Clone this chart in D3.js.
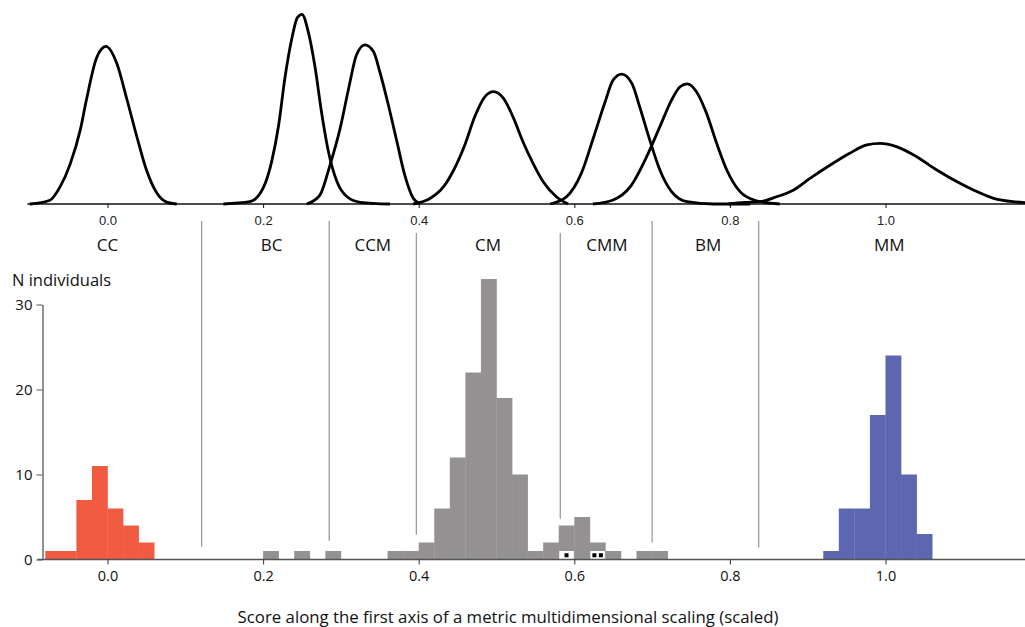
<!DOCTYPE html>
<html>
<head>
<meta charset="utf-8">
<script src="https://cdn.jsdelivr.net/npm/d3@7"></script>
<style>
  body{ margin:0; background:#fff; }
  svg{ display:block; }
</style>
</head>
<body>
<div id="chart"></div>
<script>
// ---- data ----
// density curves (score, relative density)
const ccCurve  = [[-0.100,0],[-0.074,0.02],[-0.061,0.09],[-0.048,0.21],[-0.035,0.39],[-0.027,0.55],[-0.014,0.77],[-0.002,0.83],[0.012,0.74],[0.025,0.55],[0.038,0.35],[0.050,0.18],[0.063,0.06],[0.076,0.01],[0.089,0]];
const bcCurve  = [[0.149,0],[0.183,0.012],[0.200,0.083],[0.211,0.223],[0.220,0.416],[0.228,0.662],[0.237,0.872],[0.244,0.981],[0.250,0.998],[0.258,0.907],[0.267,0.714],[0.275,0.486],[0.284,0.275],[0.295,0.117],[0.308,0.038],[0.325,0.009],[0.363,0]];
const ccmCurve = [[0.256,0],[0.273,0.047],[0.286,0.205],[0.299,0.398],[0.310,0.609],[0.320,0.784],[0.331,0.837],[0.342,0.801],[0.350,0.696],[0.361,0.521],[0.372,0.328],[0.382,0.153],[0.393,0.030],[0.402,0]];
const cmCurve  = [[0.393,0],[0.415,0.030],[0.432,0.091],[0.445,0.179],[0.460,0.319],[0.472,0.459],[0.485,0.564],[0.496,0.591],[0.509,0.556],[0.522,0.451],[0.534,0.328],[0.547,0.214],[0.560,0.117],[0.577,0.038],[0.592,0]];
const cmmCurve = [[0.569,0],[0.590,0.038],[0.609,0.161],[0.625,0.354],[0.639,0.530],[0.650,0.653],[0.661,0.684],[0.674,0.635],[0.684,0.512],[0.697,0.337],[0.710,0.179],[0.725,0.065],[0.745,0.012],[0.779,0],[0.826,0]];
const bmCurve  = [[0.624,0],[0.650,0.021],[0.672,0.091],[0.693,0.249],[0.710,0.407],[0.725,0.547],[0.736,0.617],[0.745,0.632],[0.757,0.591],[0.770,0.477],[0.783,0.319],[0.796,0.179],[0.813,0.065],[0.834,0.017],[0.864,0]];
const mmCurve  = [[0.798,0],[0.819,0.008],[0.839,0.012],[0.860,0.038],[0.882,0.074],[0.903,0.135],[0.929,0.205],[0.954,0.267],[0.976,0.311],[0.993,0.319],[1.014,0.302],[1.040,0.249],[1.066,0.179],[1.092,0.117],[1.113,0.074],[1.139,0.030],[1.164,0.012],[1.180,0.007]];
const curves = [ccCurve, bcCurve, ccmCurve, cmCurve, cmmCurve, bmCurve, mmCurve];

// group labels and boundaries between groups
const groupNames  = ["CC","BC","CCM","CM","CMM","BM","MM"];
const groupCenter = [0.0, 0.211, 0.341, 0.489, 0.642, 0.772, 1.005];
const boundaries  = [0.121, 0.285, 0.397, 0.582, 0.700, 0.837];
const boundaryEnd = [1.5, 2.2, 2.9, 4.8, 2.0, 1.4];   // counts where the lines stop

// histogram, bins of width 0.02 (left edge, count)
const binWidth = 0.02;
const ccBins   = [-0.08,-0.06,-0.04,-0.02,0.00,0.02,0.04];
const ccCounts = [1,1,7,11,6,4,2];
const cmBins   = [0.20,0.24,0.28,0.36,0.38,0.40,0.42,0.44,0.46,0.48,0.50,0.52,0.54,0.56,0.58,0.60,0.62,0.64,0.68,0.70];
const cmCounts = [1,1,1,1,1,2,6,12,22,33,19,10,1,2,4,5,2,1,1,1];
const mmBins   = [0.92,0.94,0.96,0.98,1.00,1.02,1.04];
const mmCounts = [1,6,6,17,24,10,3];
const markedBins   = [0.58, 0.62];   // white boxes with individual markers
const markedCounts = [1, 2];

const xTicks = [0.0, 0.2, 0.4, 0.6, 0.8, 1.0];
const yTicks = [0, 10, 20, 30];

// ---- drawing ----
const w = 1025, h = 627;
const svg = d3.select("#chart").append("svg")
  .attr("width", w)
  .attr("height", h);

const x = d3.scaleLinear().domain([0, 1]).range([107.5, 885.5]);
const yDens = d3.scaleLinear().domain([0, 1]).range([204, 14]);
const yCount = d3.scaleLinear().domain([0, 30]).range([559.5, 304.5]);

// top panel: density curves
svg.append("line")
  .attr("x1", x(-0.103)).attr("x2", w)
  .attr("y1", yDens(0)).attr("y2", yDens(0))
  .attr("stroke", "#111").attr("stroke-width", 1.3);

const topAxis = svg.append("g")
  .attr("transform", `translate(0,${yDens(0)})`)
  .call(d3.axisBottom(x).tickValues(xTicks).tickFormat(d3.format(".1f")).tickSize(4));
topAxis.select(".domain").remove();
topAxis.selectAll("line").attr("stroke", "#111");
topAxis.selectAll("text")
  .attr("font-family", "Liberation Sans, Arial, sans-serif")
  .attr("font-size", "13px")
  .attr("fill", "#222")
  .attr("dy", "1.05em");

const line = d3.line()
  .x(function(d){ return x(d[0]); })
  .y(function(d){ return yDens(d[1]); })
  .curve(d3.curveMonotoneX);

svg.selectAll("path.dens")
  .data(curves)
  .enter()
  .append("path")
  .attr("class", "dens")
  .attr("d", line)
  .attr("fill", "none")
  .attr("stroke", "#000")
  .attr("stroke-width", 2.8)
  .attr("stroke-linejoin", "round");

// group names
svg.selectAll("text.group")
  .data(groupNames)
  .enter()
  .append("text")
  .attr("class", "group")
  .text(function(d){ return d; })
  .attr("x", function(d, i){ return x(groupCenter[i]); })
  .attr("y", 251)
  .attr("text-anchor", "middle")
  .attr("font-family", "Open Sans, sans-serif")
  .attr("font-size", "17px")
  .attr("fill", "#111");

// group boundaries
svg.selectAll("line.bound")
  .data(boundaries)
  .enter()
  .append("line")
  .attr("class", "bound")
  .attr("x1", function(d){ return x(d); })
  .attr("x2", function(d){ return x(d); })
  .attr("y1", function(d){
    // lines that sit under a tick label start a bit lower
    let nearTick = xTicks.some(function(t){ return Math.abs(t - d) < 0.025; });
    return nearTick ? 233 : 221;
  })
  .attr("y2", function(d, i){ return yCount(boundaryEnd[i]); })
  .attr("stroke", "#9c9c9c")
  .attr("stroke-width", 1.3);

// bottom panel: histogram
function drawBars(bins, counts, color){
  svg.append("g").selectAll("rect")
    .data(bins)
    .enter()
    .append("rect")
    .attr("x", function(d){ return x(d); })
    .attr("y", function(d, i){ return yCount(counts[i]); })
    .attr("width", x(binWidth) - x(0) + 0.3)
    .attr("height", function(d, i){ return yCount(0) - yCount(counts[i]); })
    .attr("fill", color);
}
drawBars(ccBins, ccCounts, "#f15b42");
drawBars(cmBins, cmCounts, "#939191");
drawBars(mmBins, mmCounts, "#5c67b0");

// marked individuals
markedBins.forEach(function(b, i){
  let g = svg.append("g");
  g.append("rect")
    .attr("x", x(b) + 0.5)
    .attr("y", yCount(1))
    .attr("width", x(binWidth) - x(0) - 1)
    .attr("height", yCount(0) - yCount(1))
    .attr("fill", "#fff");
  let cx = x(b + binWidth / 2);
  let n = markedCounts[i];
  for(let k = 0; k < n; k++){
    let off = (k - (n - 1) / 2) * 6.5;
    g.append("rect")
      .attr("x", cx + off - 2)
      .attr("y", yCount(0.5) - 2)
      .attr("width", 4)
      .attr("height", 4)
      .attr("fill", "#000");
  }
});

// x axis baseline
svg.append("line")
  .attr("x1", x(-0.09)).attr("x2", w)
  .attr("y1", yCount(0)).attr("y2", yCount(0))
  .attr("stroke", "#555").attr("stroke-width", 1.3);

const bottomAxis = svg.append("g")
  .attr("transform", `translate(0,${yCount(0)})`)
  .call(d3.axisBottom(x).tickValues(xTicks).tickFormat(d3.format(".1f")).tickSize(5));
bottomAxis.select(".domain").remove();
bottomAxis.selectAll("line").attr("stroke", "#333");
bottomAxis.selectAll("text")
  .attr("font-family", "Open Sans, sans-serif")
  .attr("font-size", "14.5px")
  .attr("fill", "#111")
  .attr("dy", "0.9em");

// y axis
const leftAxis = svg.append("g")
  .attr("transform", `translate(42.5,0)`)
  .call(d3.axisLeft(yCount).tickValues(yTicks).tickSize(6).tickSizeOuter(0));
leftAxis.select(".domain").attr("stroke", "#555").attr("stroke-width", 1.3);
leftAxis.selectAll("line").attr("stroke", "#555");
leftAxis.selectAll("text")
  .attr("font-family", "Open Sans, sans-serif")
  .attr("font-size", "15px")
  .attr("fill", "#111")
  .attr("x", -10);

svg.append("text")
  .text("N individuals")
  .attr("x", 12)
  .attr("y", 286)
  .attr("font-family", "Open Sans, sans-serif")
  .attr("font-size", "16.5px")
  .attr("fill", "#111");

svg.append("text")
  .text("Score along the first axis of a metric multidimensional scaling (scaled)")
  .attr("x", 508)
  .attr("y", 623)
  .attr("text-anchor", "middle")
  .attr("font-family", "Open Sans, sans-serif")
  .attr("font-size", "16.8px")
  .attr("fill", "#111");
</script>
</body>
</html>
